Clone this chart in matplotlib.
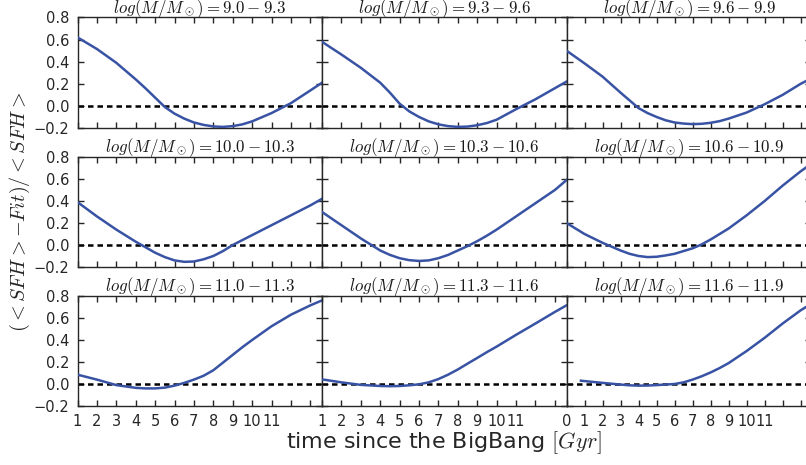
import matplotlib
matplotlib.use("Agg")
import matplotlib.pyplot as plt
import numpy as np

plt.rcParams['mathtext.fontset'] = 'cm'
plt.rcParams['font.family'] = ['DejaVu Sans']

# Panel titles (mass bins)
bins = ["9.0-9.3", "9.3-9.6", "9.6-9.9",
        "10.0-10.3", "10.3-10.6", "10.6-10.9",
        "11.0-11.3", "11.3-11.6", "11.6-11.9"]

# x positions (tick units) for left/middle columns and right column
x_lm = [0, 1, 2, 3, 3.5, 4, 4.5, 5, 5.5, 6, 6.5, 7, 7.5, 8, 8.5, 9, 10, 11, 12, 12.6]
x_r = [0, 1, 2, 3, 3.5, 4, 4.5, 5, 5.5, 6, 6.5, 7, 7.5, 8, 8.5, 9, 10, 11, 12, 13, 13.6]
x_r_last = [0.8, 2, 3, 3.5, 4, 4.5, 5, 5.5, 6, 6.5, 7, 7.5, 8, 8.5, 9, 10, 11, 12, 13, 13.6]

# residual values (<SFH> - Fit)/<SFH>
y_p1 = [0.62, 0.515, 0.39, 0.24, 0.16, 0.075, -0.01, -0.07, -0.115, -0.15, -0.172, -0.186, -0.19, -0.183, -0.167, -0.14, -0.065, 0.025, 0.14, 0.21]
y_p2 = [0.58, 0.465, 0.345, 0.21, 0.12, 0.02, -0.05, -0.10, -0.14, -0.167, -0.183, -0.19, -0.187, -0.175, -0.155, -0.125, -0.03, 0.06, 0.16, 0.22]
y_p3 = [0.50, 0.385, 0.265, 0.12, 0.05, -0.02, -0.065, -0.10, -0.13, -0.15, -0.16, -0.165, -0.162, -0.153, -0.138, -0.115, -0.06, 0.015, 0.10, 0.20, 0.25]
y_p4 = [0.39, 0.26, 0.14, 0.03, -0.02, -0.07, -0.11, -0.14, -0.153, -0.15, -0.13, -0.10, -0.055, 0.0, 0.045, 0.09, 0.18, 0.27, 0.36, 0.42]
y_p5 = [0.30, 0.18, 0.06, -0.05, -0.09, -0.12, -0.138, -0.145, -0.14, -0.12, -0.09, -0.05, -0.01, 0.035, 0.085, 0.14, 0.26, 0.38, 0.50, 0.59]
y_p6 = [0.20, 0.10, 0.02, -0.05, -0.08, -0.10, -0.11, -0.107, -0.095, -0.08, -0.055, -0.03, 0.005, 0.05, 0.10, 0.15, 0.27, 0.40, 0.54, 0.67, 0.74]
y_p7 = [0.085, 0.04, -0.01, -0.035, -0.04, -0.04, -0.033, -0.015, 0.01, 0.04, 0.075, 0.125, 0.195, 0.265, 0.335, 0.40, 0.525, 0.63, 0.715, 0.76]
y_p8 = [0.042, 0.015, -0.008, -0.018, -0.02, -0.018, -0.012, -0.003, 0.015, 0.045, 0.085, 0.132, 0.185, 0.237, 0.29, 0.34, 0.447, 0.55, 0.655, 0.715]
y_p9 = [0.03, 0.01, -0.005, -0.012, -0.015, -0.014, -0.01, -0.005, 0.0, 0.015, 0.04, 0.07, 0.105, 0.145, 0.19, 0.30, 0.42, 0.55, 0.67, 0.73]

xs = [x_lm, x_lm, x_r, x_lm, x_lm, x_r, x_lm, x_lm, x_r_last]
ys = [y_p1, y_p2, y_p3, y_p4, y_p5, y_p6, y_p7, y_p8, y_p9]

ticklabels_lm = [str(i) for i in range(1, 12)]
ticklabels_r = [str(i) for i in range(0, 12)]
yticks = [-0.2, 0.0, 0.2, 0.4, 0.6, 0.8]
yticklabels = ['\u22120.2', '0.0', '0.2', '0.4', '0.6', '0.8']

W, H = 806, 465
fig = plt.figure(figsize=(W / 100, H / 100), dpi=100)

col_left = [77.5, 322, 566.5]
col_w = [244.5, 244.5, 245]
row_top = [17.5, 157, 296]
row_h = [110.5, 110, 110]
xmax = [12.6, 12.6, 13.6]
nticks = [13, 13, 14]

line_color = '#3953a4'
dark = '#262626'

for i in range(9):
    r, c = divmod(i, 3)
    ax = fig.add_axes([col_left[c] / W, 1 - (row_top[r] + row_h[r]) / H,
                       col_w[c] / W, row_h[r] / H])
    ax.plot(xs[i], ys[i], color=line_color, lw=1.8, zorder=3,
            solid_joinstyle='round')
    ax.axhline(0, color='black', lw=1.8, ls=(0, (2.2, 1.6)), zorder=2)
    ax.set_xlim(0, xmax[c])
    ax.set_ylim(-0.2, 0.8)
    labels = ticklabels_r if c == 2 else ticklabels_lm
    n = nticks[c]
    ax.set_xticks(range(0, n))
    ax.set_xticklabels(labels + [''] * (n - len(labels)))
    ax.set_yticks(yticks)
    ax.set_yticklabels(yticklabels)
    ax.tick_params(direction='in', top=True, right=True, length=4, width=1,
                   color=dark, labelcolor=dark, labelsize=10.5, pad=6)
    if c != 0:
        ax.tick_params(labelleft=False)
    if r != 2:
        ax.tick_params(labelbottom=False)
    for s in ax.spines.values():
        s.set_color(dark)
        s.set_linewidth(1.0)
    ax.annotate(r'$log(M/M_\odot)=%s$' % bins[i], xy=(0.5, 1.0),
                xycoords='axes fraction', xytext=(0, 3.3),
                textcoords='offset points', ha='center', va='baseline',
                fontsize=12.2, color='#1a1a1a')

fig.text(444 / W, 1 - 443 / H, r'time since the BigBang $[Gyr]$', fontsize=16,
         ha='center', va='center', color=dark)
fig.text(20 / W, 1 - 212 / H, r'$(<SFH>-Fit)/<SFH>$', fontsize=14.5,
         rotation=90, ha='center', va='center', color=dark)

fig.savefig('out.png', dpi=100)
